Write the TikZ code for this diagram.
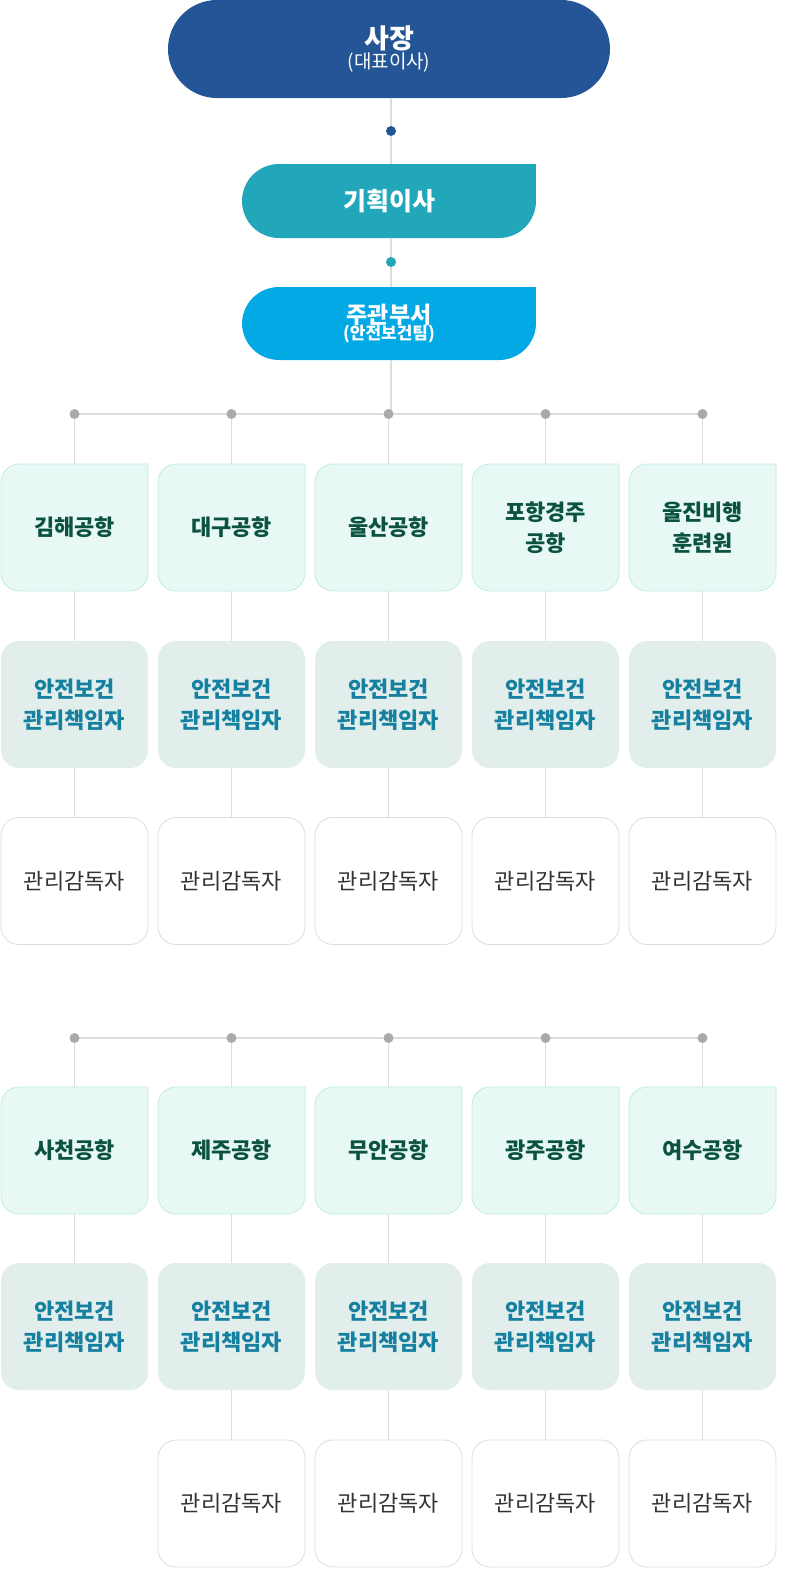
\documentclass[tikz,border=0pt]{standalone}
\usepackage{fontspec}
\setmainfont{Noto Sans CJK KR}
\definecolor{ceo}{HTML}{245596}
\definecolor{plan}{HTML}{22A6BA}
\definecolor{dept}{HTML}{02A9E5}
\definecolor{apfill}{HTML}{E8F8F5}
\definecolor{apline}{HTML}{BDEDE3}
\definecolor{aptext}{HTML}{0B5340}
\definecolor{sffill}{HTML}{E1EEEC}
\definecolor{sftext}{HTML}{1580A0}
\definecolor{svline}{HTML}{DDDDDD}
\definecolor{svtext}{HTML}{333333}
\definecolor{conn}{HTML}{DDDDDD}
\definecolor{dotg}{HTML}{AAAAAA}
\newcommand\apshape[2]{%
  \filldraw[fill=apfill,draw=apline,line width=0.8pt]
    ({#1-55.5},{#2+63.5}) -- ({#1+73.5},{#2+63.5}) -- ({#1+73.5},{#2-45.5})
    arc(0:-90:18) -- ({#1-55.5},{#2-63.5}) arc(270:180:18)
    -- ({#1-73.5},{#2+45.5}) arc(180:90:18) -- cycle;}
\tikzset{
  box/.style={minimum width=147pt,minimum height=127pt,inner sep=0pt,outer sep=0pt,align=center},
  aptxt/.style={box,text=aptext,font=\fontsize{22}{31}\selectfont\bfseries},
  sfbox/.style={box,fill=sffill,rounded corners=18pt,text=sftext,font=\fontsize{22}{31}\selectfont\bfseries},
  svbox/.style={box,fill=white,draw=svline,line width=0.8pt,rounded corners=18pt,text=svtext,font=\fontsize{22}{31}\selectfont},
  cline/.style={draw=conn,line width=1.2pt},
  gdot/.style={circle,fill=dotg,inner sep=0pt,minimum size=10pt}
}
\begin{document}
\begin{tikzpicture}[x=1pt,y=1pt]
\node[fill=ceo,rounded corners=49pt,minimum width=442pt,minimum height=98pt,inner sep=0pt,outer sep=0pt,text=white,align=center] (ceo) at (389,-49)
  {{\fontsize{27}{31}\selectfont\bfseries 사장}\\[0pt]{\fontsize{19}{22}\selectfont (대표이사)}};
\node[circle,fill=ceo,inner sep=0pt,minimum size=10pt] (d1) at (391,-131) {};
\node[fill=plan,rounded corners=37pt,minimum width=294pt,minimum height=74pt,inner sep=0pt,outer sep=0pt,text=white,font=\fontsize{25}{29}\selectfont\bfseries] (plan) at (389,-201) {기획이사};
\fill[plan] (plan.north east) rectangle ++(-40,-37);
\node[circle,fill=plan,inner sep=0pt,minimum size=10pt] (d2) at (391,-262) {};
\node[fill=dept,rounded corners=37pt,minimum width=294pt,minimum height=73pt,inner sep=0pt,outer sep=0pt,text=white,align=center] (dept) at (389,-323.5)
  {{\fontsize{23}{26}\selectfont\bfseries 주관부서}\\[-2pt]{\fontsize{17}{19}\selectfont\bfseries (안전보건팀)}};
\fill[dept] (dept.north east) rectangle ++(-40,-36);
\coordinate (t0) at (391,-414);
\draw[cline] (391,-98) -- (d1) -- (391,-164);
\draw[cline] (391,-238) -- (d2) -- (391,-287);
\draw[cline] (391,-360) -- (t0);
\draw[cline] (74.5,-414) -- (702.5,-414);
\draw[cline] (74.5,-1038) -- (702.5,-1038);
\foreach \i/\nm in {1/김해공항,2/대구공항,3/울산공항,4/포항경주\\공항,5/울진비행\\훈련원}{
  \pgfmathsetmacro\cx{74.5+157*(\i-1)}
  \apshape{\cx}{-527.5}
  \node[gdot] (td\i) at (\cx,-414) {};
  \node[aptxt] (ta\i) at (\cx,-527.5) {\nm};
  \node[sfbox] (ts\i) at (\cx,-704.5) {안전보건\\관리책임자};
  \node[svbox] (tv\i) at (\cx,-881) {관리감독자};
  \draw[cline] (td\i) -- (ta\i);
  \draw[cline] (ta\i) -- (ts\i);
  \draw[cline] (ts\i) -- (tv\i);
}
\foreach \i/\nm in {1/사천공항,2/제주공항,3/무안공항,4/광주공항,5/여수공항}{
  \pgfmathsetmacro\cx{74.5+157*(\i-1)}
  \apshape{\cx}{-1150.5}
  \node[gdot] (bd\i) at (\cx,-1038) {};
  \node[aptxt] (ba\i) at (\cx,-1150.5) {\nm};
  \node[sfbox] (bs\i) at (\cx,-1326.5) {안전보건\\관리책임자};
  \draw[cline] (bd\i) -- (ba\i);
  \draw[cline] (ba\i) -- (bs\i);
}
\foreach \i in {2,3,4,5}{
  \pgfmathsetmacro\cx{74.5+157*(\i-1)}
  \node[svbox] (bv\i) at (\cx,-1503.5) {관리감독자};
  \draw[cline] (bs\i) -- (bv\i);
}
\pgfresetboundingbox
\useasboundingbox (0,0) rectangle (790,-1596);
\end{tikzpicture}
\end{document}
